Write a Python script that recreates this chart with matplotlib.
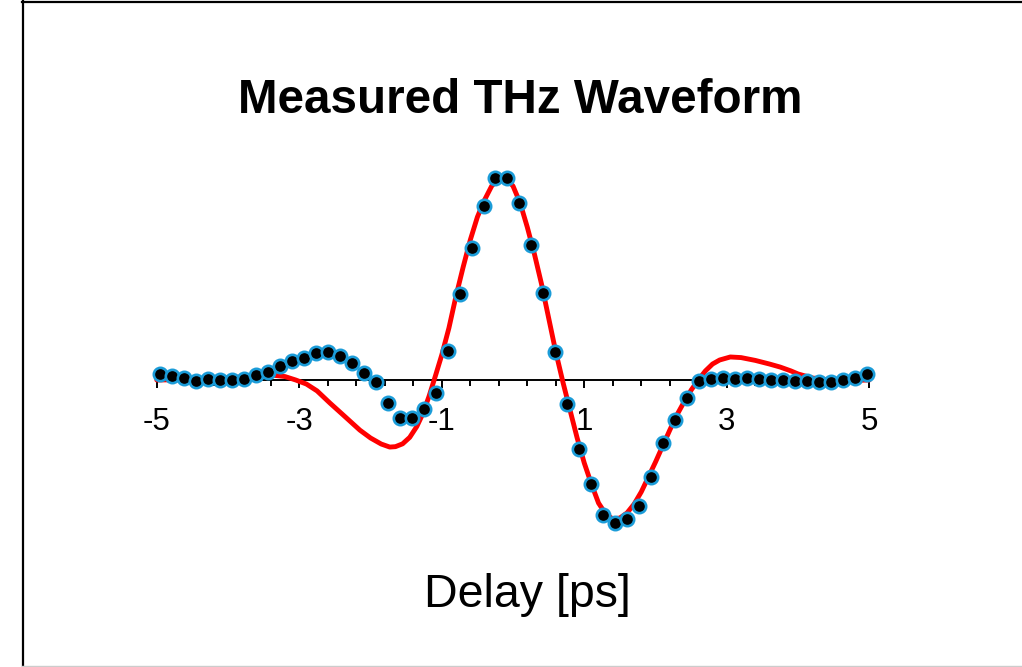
import numpy as np
import matplotlib
matplotlib.use("Agg")
import matplotlib.pyplot as plt
from matplotlib.ticker import FixedLocator
from matplotlib.lines import Line2D

plt.rcParams['font.family'] = ['Liberation Sans', 'DejaVu Sans']
plt.rcParams['axes.unicode_minus'] = False

# Measured samples: regular delay grid (ps) and normalized field amplitude
delay_start = -4.95
delay_step = 0.168
measured = [
    0.030, 0.021, 0.011, -0.003, 0.003, 0.000, 0.000, 0.003, 0.025, 0.038,
    0.071, 0.093, 0.107, 0.132, 0.140, 0.119, 0.084, 0.035, -0.008, -0.112,
    -0.190, -0.190, -0.144, -0.066, 0.146, 0.424, 0.652, 0.863, 0.999, 0.999,
    0.875, 0.668, 0.429, 0.137, -0.120, -0.343, -0.515, -0.668, -0.706, -0.690,
    -0.624, -0.479, -0.313, -0.198, -0.091, -0.003, 0.006, 0.010, 0.006, 0.011,
    0.005, 0.000, 0.000, -0.003, -0.003, -0.008, -0.008, 0.000, 0.011, 0.028,
]
measured_delay = [round(delay_start + i * delay_step, 3) for i in range(len(measured))]

# Model waveform
model_delay = [
    -5.0, -4.5, -4.0, -3.8, -3.6, -3.4, -3.2, -3.05, -2.9, -2.75,
    -2.57, -2.4, -2.15, -2.0, -1.85, -1.73, -1.65, -1.55, -1.45, -1.35,
    -1.27, -1.18, -1.1, -1.0, -0.9, -0.8, -0.7, -0.6, -0.5, -0.4,
    -0.3, -0.2, -0.15, -0.1, 0.0, 0.1, 0.2, 0.3, 0.4, 0.5,
    0.6, 0.7, 0.8, 0.9, 1.0, 1.1, 1.2, 1.3, 1.4, 1.5,
    1.6, 1.7, 1.8, 1.9, 2.0, 2.1, 2.2, 2.3, 2.4, 2.5,
    2.6, 2.7, 2.8, 2.9, 3.05, 3.2, 3.4, 3.6, 3.75, 3.9,
    4.0, 4.2, 4.4, 4.6, 4.8, 5.0,
]
model = [
    0.000, 0.002, 0.010, 0.016, 0.022, 0.025, 0.017, 0.000, -0.020, -0.054,
    -0.114, -0.168, -0.248, -0.287, -0.317, -0.332, -0.330, -0.316, -0.284, -0.230,
    -0.170, -0.082, 0.008, 0.124, 0.257, 0.416, 0.559, 0.693, 0.807, 0.891,
    0.960, 1.000, 1.005, 1.000, 0.960, 0.876, 0.757, 0.624, 0.475, 0.307,
    0.139, -0.010, -0.149, -0.287, -0.411, -0.515, -0.609, -0.663, -0.688, -0.683,
    -0.658, -0.614, -0.554, -0.480, -0.406, -0.327, -0.248, -0.173, -0.109, -0.050,
    0.000, 0.045, 0.079, 0.099, 0.114, 0.111, 0.097, 0.079, 0.064, 0.045,
    0.030, 0.010, 0.002, 0.000, -0.002, 0.000,
]

major_ticks = [-5, -3, -1, 1, 3, 5]
major_labels = ['-5', '-3', '-1', '1', '3', '5']
minor_ticks = [round(-5 + 0.4 * k, 2) for k in range(26)]

W, H = 1022, 667
fig = plt.figure(figsize=(W / 100, H / 100), dpi=100)
fig.patch.set_facecolor('white')

ax = fig.add_axes([135.4 / W, (H - 582) / H, 755.25 / W, 444.4 / H])
ax.set_xlim(-5.3, 5.3)
ax.set_ylim(-1.0, 1.2)
ax.patch.set_alpha(0)

ax.plot(model_delay, model, color='#ff0000', lw=3.5, solid_joinstyle='round',
        solid_capstyle='round', zorder=3)
ax.plot(measured_delay, measured, 'o', ms=9.6, mew=1.9, mfc='black',
        mec='#1b9cd8', zorder=4)

for side in ('left', 'right', 'top'):
    ax.spines[side].set_visible(False)
ax.spines['bottom'].set_position(('data', 0))
ax.spines['bottom'].set_linewidth(1.4)
ax.spines['bottom'].set_bounds(-5, 5)
ax.yaxis.set_visible(False)

ax.xaxis.set_major_locator(FixedLocator(major_ticks))
ax.set_xticklabels(major_labels)
ax.xaxis.set_minor_locator(FixedLocator([t for t in minor_ticks if t not in major_ticks]))
ax.tick_params(axis='x', which='major', direction='out', length=5.5, width=1.4,
               labelsize=22.5, pad=14)
ax.tick_params(axis='x', which='minor', direction='out', length=4, width=1.4)

fig.text(520 / W, (H - 113.3) / H, 'Measured THz Waveform', ha='center',
         va='baseline', fontsize=34.3, fontweight='bold')
fig.text(527 / W, (H - 607) / H, 'Delay [ps]', ha='center', va='baseline',
         fontsize=33.5)

# Page border
fig.add_artist(Line2D([22.5 / W, 22.5 / W], [0, 1], transform=fig.transFigure,
                      color='black', lw=1.6))
fig.add_artist(Line2D([22 / W, 1], [(H - 2) / H, (H - 2) / H], transform=fig.transFigure,
                      color='black', lw=1.6))
fig.add_artist(Line2D([22 / W, 1], [(H - 666) / H, (H - 666) / H], transform=fig.transFigure,
                      color='#cccccc', lw=1.0))

fig.savefig('out.png', dpi=100, facecolor='white')
